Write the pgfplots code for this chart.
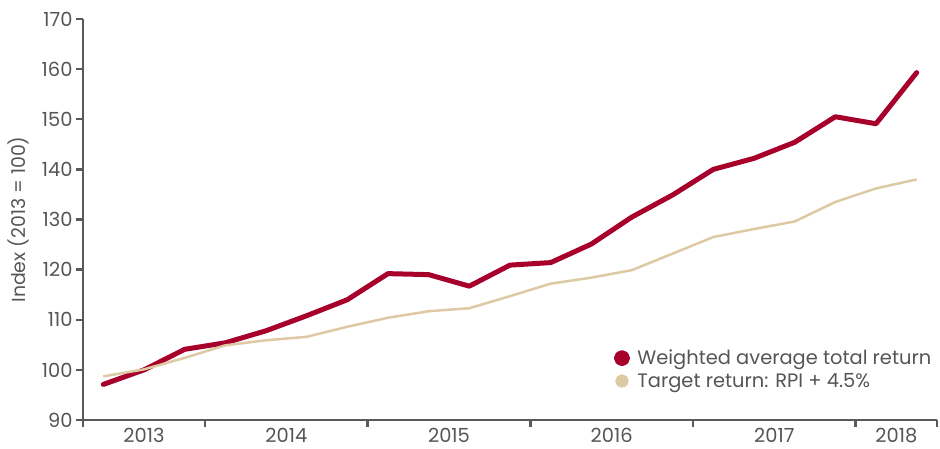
\documentclass[border=0pt]{standalone}
\usepackage{pgfplots}
\pgfplotsset{compat=1.18}
\usepackage{fontspec}
\setmainfont{Poppins}
\definecolor{wred}{HTML}{A6002B}
\definecolor{tbeige}{HTML}{DDC9A3}
\definecolor{txtgray}{HTML}{555555}
\definecolor{axgray}{HTML}{595959}
\begin{document}
\begin{tikzpicture}
\begin{axis}[
  name=ax,
  scale only axis,
  width=854bp, height=401bp,
  xmin=-0.5, xmax=20.5,
  ymin=90, ymax=170,
  ytick={90,100,...,170},
  xtick={-0.5,2.5,6.5,10.5,14.5,18.5,20.5},
  xticklabels={},
  extra x ticks={1,4.5,8.5,12.5,16.5,19.5},
  extra x tick labels={2013,2014,2015,2016,2017,2018},
  extra x tick style={major tick length=0pt, tick style={draw=none},
     xticklabel style={yshift=-5bp}},
  axis x line*=bottom, axis y line*=left,
  axis line style={-, draw=axgray, line width=2.5bp},
  tick style={draw=axgray, line width=2.5bp},
  tick align=outside,
  major tick length=7bp,
  every tick label/.append style={font=\fontsize{19.5}{22}\selectfont, text=txtgray},
  /pgf/number format/assume math mode=true,
  ylabel={Index (2013 = 100)},
  every axis y label/.style={at={(rel axis cs:0,0.5)}, xshift=-65bp, rotate=90, anchor=center},
  ylabel style={font=\fontsize{19}{22}\selectfont, text=txtgray},
  legend style={draw=none, fill=none, at={(0.618,0.185)}, anchor=north west,
    font=\fontsize{19.5}{22}\selectfont, text=txtgray, row sep=3bp,
    legend cell align=left},
  legend image code/.code={\fill[#1] (0,0) circle (5.5bp); \path (11bp,0);},
  clip=false,
]
\addplot[wred, line width=5bp, line join=round, line cap=round, legend image post style={draw=none}] coordinates {
(0,97.1) (1,100.0) (2,104.1) (3,105.4) (4,107.8) (5,110.8) (6,114.0) (7,119.2) (8,119.0) (9,116.7) (10,120.9) (11,121.4) (12,125.1) (13,130.5) (14,134.9) (15,140.0) (16,142.2) (17,145.4) (18,150.5) (19,149.1) (20,159.3)
};
\addlegendentry{Weighted average total return}
\addplot[tbeige, line width=2.5bp, line join=round] coordinates {
(0,98.7) (1,100.1) (2,102.4) (3,104.9) (4,105.9) (5,106.6) (6,108.6) (7,110.4) (8,111.7) (9,112.3) (10,114.7) (11,117.2) (12,118.4) (13,119.9) (14,123.2) (15,126.5) (16,128.1) (17,129.6) (18,133.5) (19,136.2) (20,138.0)
};
\addlegendentry{Target return: RPI + 4.5\%}
\end{axis}
\pgfresetboundingbox
\path[use as bounding box] ([shift={(-83bp,-29bp)}]ax.south west) rectangle ++(940bp,449bp);
\end{tikzpicture}
\end{document}
